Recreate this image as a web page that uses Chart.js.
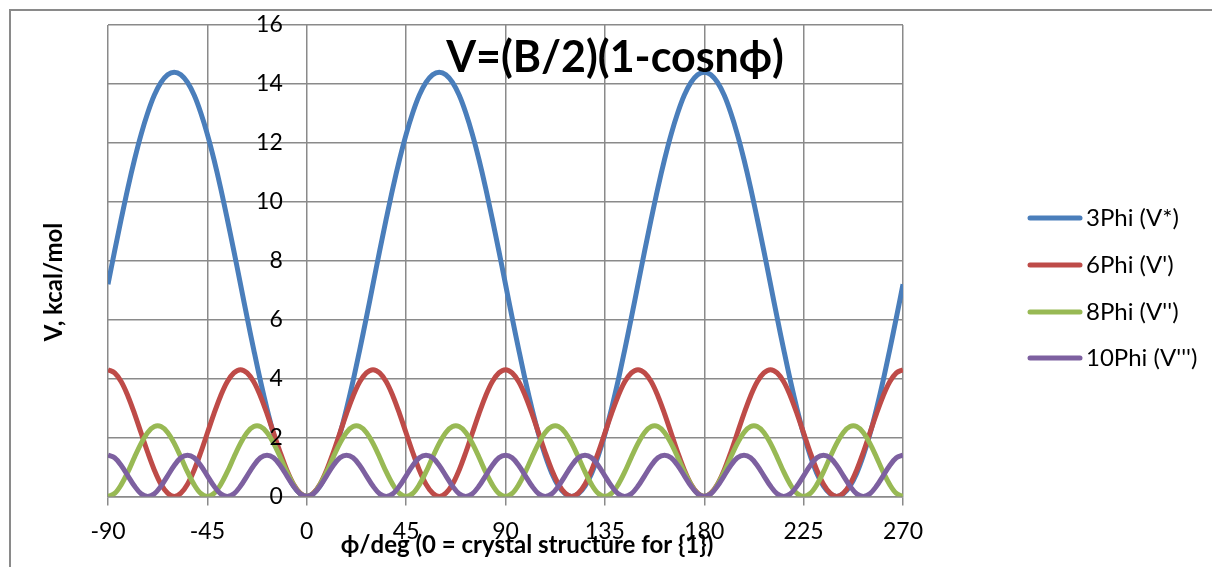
<!DOCTYPE html>
<html lang="en">
<head>
<meta charset="UTF-8">
<title>Torsional potential</title>
<style>
  body, html { margin: 0; padding: 0; background: #fff; }
  .chart-container { position: relative; width: 1212px; height: 567px; }
</style>
<script src="https://cdn.jsdelivr.net/npm/chart.js"></script>
</head>
<body>
<div class="chart-container"><canvas id="torsionChart" width="1212" height="567"></canvas></div>
<script>
// dihedral angle phi, degrees
const angles = [
  -90, -87, -84, -81, -78, -75, -72, -69, -66, -63,
  -60, -57, -54, -51, -48, -45, -42, -39, -36, -33,
  -30, -27, -24, -21, -18, -15, -12, -9, -6, -3,
  0, 3, 6, 9, 12, 15, 18, 21, 24, 27,
  30, 33, 36, 39, 42, 45, 48, 51, 54, 57,
  60, 63, 66, 69, 72, 75, 78, 81, 84, 87,
  90, 93, 96, 99, 102, 105, 108, 111, 114, 117,
  120, 123, 126, 129, 132, 135, 138, 141, 144, 147,
  150, 153, 156, 159, 162, 165, 168, 171, 174, 177,
  180, 183, 186, 189, 192, 195, 198, 201, 204, 207,
  210, 213, 216, 219, 222, 225, 228, 231, 234, 237,
  240, 243, 246, 249, 252, 255, 258, 261, 264, 267,
  270
];

// V, kcal/mol for each angle
const v3Phi = [
  7.2, 8.33, 9.42, 10.47, 11.43, 12.29, 13.02, 13.62, 14.05, 14.31,
  14.4, 14.31, 14.05, 13.62, 13.02, 12.29, 11.43, 10.47, 9.42, 8.33,
  7.2, 6.07, 4.98, 3.93, 2.97, 2.11, 1.38, 0.78, 0.35, 0.09,
  0, 0.09, 0.35, 0.78, 1.38, 2.11, 2.97, 3.93, 4.98, 6.07,
  7.2, 8.33, 9.42, 10.47, 11.43, 12.29, 13.02, 13.62, 14.05, 14.31,
  14.4, 14.31, 14.05, 13.62, 13.02, 12.29, 11.43, 10.47, 9.42, 8.33,
  7.2, 6.07, 4.98, 3.93, 2.97, 2.11, 1.38, 0.78, 0.35, 0.09,
  0, 0.09, 0.35, 0.78, 1.38, 2.11, 2.97, 3.93, 4.98, 6.07,
  7.2, 8.33, 9.42, 10.47, 11.43, 12.29, 13.02, 13.62, 14.05, 14.31,
  14.4, 14.31, 14.05, 13.62, 13.02, 12.29, 11.43, 10.47, 9.42, 8.33,
  7.2, 6.07, 4.98, 3.93, 2.97, 2.11, 1.38, 0.78, 0.35, 0.09,
  0, 0.09, 0.35, 0.78, 1.38, 2.11, 2.97, 3.93, 4.98, 6.07,
  7.2
];

const v6Phi = [
  4.3, 4.19, 3.89, 3.41, 2.81, 2.15, 1.49, 0.89, 0.41, 0.11,
  0, 0.11, 0.41, 0.89, 1.49, 2.15, 2.81, 3.41, 3.89, 4.19,
  4.3, 4.19, 3.89, 3.41, 2.81, 2.15, 1.49, 0.89, 0.41, 0.11,
  0, 0.11, 0.41, 0.89, 1.49, 2.15, 2.81, 3.41, 3.89, 4.19,
  4.3, 4.19, 3.89, 3.41, 2.81, 2.15, 1.49, 0.89, 0.41, 0.11,
  0, 0.11, 0.41, 0.89, 1.49, 2.15, 2.81, 3.41, 3.89, 4.19,
  4.3, 4.19, 3.89, 3.41, 2.81, 2.15, 1.49, 0.89, 0.41, 0.11,
  0, 0.11, 0.41, 0.89, 1.49, 2.15, 2.81, 3.41, 3.89, 4.19,
  4.3, 4.19, 3.89, 3.41, 2.81, 2.15, 1.49, 0.89, 0.41, 0.11,
  0, 0.11, 0.41, 0.89, 1.49, 2.15, 2.81, 3.41, 3.89, 4.19,
  4.3, 4.19, 3.89, 3.41, 2.81, 2.15, 1.49, 0.89, 0.41, 0.11,
  0, 0.11, 0.41, 0.89, 1.49, 2.15, 2.81, 3.41, 3.89, 4.19,
  4.3
];

const v8Phi = [
  0,
  0.1, 0.4, 0.83, 1.33, 1.8, 2.17, 2.37, 2.37, 2.17, 1.8, 1.33, 0.83, 0.4, 0.1, 0,
  0.1, 0.4, 0.83, 1.33, 1.8, 2.17, 2.37, 2.37, 2.17, 1.8, 1.33, 0.83, 0.4, 0.1, 0,
  0.1, 0.4, 0.83, 1.33, 1.8, 2.17, 2.37, 2.37, 2.17, 1.8, 1.33, 0.83, 0.4, 0.1, 0,
  0.1, 0.4, 0.83, 1.33, 1.8, 2.17, 2.37, 2.37, 2.17, 1.8, 1.33, 0.83, 0.4, 0.1, 0,
  0.1, 0.4, 0.83, 1.33, 1.8, 2.17, 2.37, 2.37, 2.17, 1.8, 1.33, 0.83, 0.4, 0.1, 0,
  0.1, 0.4, 0.83, 1.33, 1.8, 2.17, 2.37, 2.37, 2.17, 1.8, 1.33, 0.83, 0.4, 0.1, 0,
  0.1, 0.4, 0.83, 1.33, 1.8, 2.17, 2.37, 2.37, 2.17, 1.8, 1.33, 0.83, 0.4, 0.1, 0,
  0.1, 0.4, 0.83, 1.33, 1.8, 2.17, 2.37, 2.37, 2.17, 1.8, 1.33, 0.83, 0.4, 0.1, 0
];

const v10Phi = [
  1.4,
  1.31, 1.05, 0.7, 0.35, 0.09, 0, 0.09, 0.35, 0.7, 1.05, 1.31, 1.4,
  1.31, 1.05, 0.7, 0.35, 0.09, 0, 0.09, 0.35, 0.7, 1.05, 1.31, 1.4,
  1.31, 1.05, 0.7, 0.35, 0.09, 0, 0.09, 0.35, 0.7, 1.05, 1.31, 1.4,
  1.31, 1.05, 0.7, 0.35, 0.09, 0, 0.09, 0.35, 0.7, 1.05, 1.31, 1.4,
  1.31, 1.05, 0.7, 0.35, 0.09, 0, 0.09, 0.35, 0.7, 1.05, 1.31, 1.4,
  1.31, 1.05, 0.7, 0.35, 0.09, 0, 0.09, 0.35, 0.7, 1.05, 1.31, 1.4,
  1.31, 1.05, 0.7, 0.35, 0.09, 0, 0.09, 0.35, 0.7, 1.05, 1.31, 1.4,
  1.31, 1.05, 0.7, 0.35, 0.09, 0, 0.09, 0.35, 0.7, 1.05, 1.31, 1.4,
  1.31, 1.05, 0.7, 0.35, 0.09, 0, 0.09, 0.35, 0.7, 1.05, 1.31, 1.4,
  1.31, 1.05, 0.7, 0.35, 0.09, 0, 0.09, 0.35, 0.7, 1.05, 1.31, 1.4
];

const seriesNames = ['3Phi (V*)', "6Phi (V')", "8Phi (V'')", "10Phi (V''')"];
const seriesColors = ['#4a7ebb', '#be4b48', '#98b954', '#7d60a0'];
const xTicks = { min: -90, max: 270, step: 45 };
const yTicks = { min: 0, max: 16, step: 2 };

const FONT = "Lato, 'DejaVu Sans', sans-serif";
const GRID = '#8a8a8a';

function toPoints(values) {
  return values.map((v, i) => ({ x: angles[i], y: v }));
}

// titles, y tick labels (beside the phi = 0 line), legend and the outer frame
const decorations = {
  id: 'decorations',
  beforeDraw(chart) {
    const ctx = chart.ctx;
    ctx.save();
    ctx.strokeStyle = GRID;
    ctx.lineWidth = 2;
    ctx.beginPath();
    ctx.moveTo(10, 567);
    ctx.lineTo(10, 10);
    ctx.lineTo(1212, 10);
    ctx.stroke();
    ctx.restore();
  },
  afterDraw(chart) {
    const ctx = chart.ctx;
    const xs = chart.scales.x;
    const ys = chart.scales.y;
    ctx.save();
    ctx.fillStyle = '#000';

    // y tick labels sit just left of the vertical line at phi = 0
    ctx.font = '23px ' + FONT;
    ctx.textAlign = 'right';
    ctx.textBaseline = 'middle';
    const xZero = xs.getPixelForValue(0);
    ys.ticks.forEach(t => {
      ctx.fillText(String(t.value), xZero - 24, ys.getPixelForValue(t.value));
    });

    ctx.font = 'bold 43px ' + FONT;
    ctx.textAlign = 'center';
    ctx.textBaseline = 'alphabetic';
    ctx.fillText('V=(B/2)(1-cosn\u03d5)', 615, 72);

    ctx.font = 'bold 24px ' + FONT;
    ctx.fillText('\u03d5/deg (0 = crystal structure for {1})', 527, 553);

    ctx.save();
    ctx.translate(54, 282);
    ctx.rotate(-Math.PI / 2);
    ctx.textBaseline = 'middle';
    ctx.fillText('V, kcal/mol', 0, 0);
    ctx.restore();

    const rows = [218, 265, 312, 358];
    ctx.font = '24px ' + FONT;
    ctx.textAlign = 'left';
    ctx.textBaseline = 'middle';
    chart.data.datasets.forEach((ds, i) => {
      ctx.strokeStyle = ds.borderColor;
      ctx.lineWidth = 5;
      ctx.lineCap = 'round';
      ctx.beginPath();
      ctx.moveTo(1030, rows[i]);
      ctx.lineTo(1080, rows[i]);
      ctx.stroke();
      ctx.fillText(ds.label, 1086, rows[i]);
    });
    ctx.restore();
  }
};

const allValues = [v3Phi, v6Phi, v8Phi, v10Phi];
const ctx = document.getElementById('torsionChart').getContext('2d');
const torsionChart = new Chart(ctx, {
  type: 'line',
  data: {
    datasets: allValues.map((vals, i) => ({
      label: seriesNames[i],
      data: toPoints(vals),
      borderColor: seriesColors[i],
      backgroundColor: seriesColors[i],
      borderWidth: 5,
      pointRadius: 0,
      tension: 0.35,
      fill: false,
      order: allValues.length - i
    }))
  },
  options: {
    responsive: false,
    animation: false,
    events: [],
    layout: { padding: { left: 108, right: 309, top: 25, bottom: 10 } },
    plugins: {
      legend: { display: false },
      tooltip: { enabled: false }
    },
    scales: {
      x: {
        type: 'linear',
        min: xTicks.min,
        max: xTicks.max,
        ticks: { stepSize: xTicks.step, padding: 12, color: '#000', font: { family: FONT, size: 23 } },
        grid: { color: GRID, lineWidth: 1.5, tickLength: 9 },
        border: { color: GRID, width: 1.5 }
      },
      y: {
        min: yTicks.min,
        max: yTicks.max,
        position: { x: 0 },
        ticks: { stepSize: yTicks.step, display: false },
        grid: { color: GRID, lineWidth: 1.5, drawTicks: false },
        border: { display: false }
      }
    }
  },
  plugins: [decorations]
});
</script>
</body>
</html>
